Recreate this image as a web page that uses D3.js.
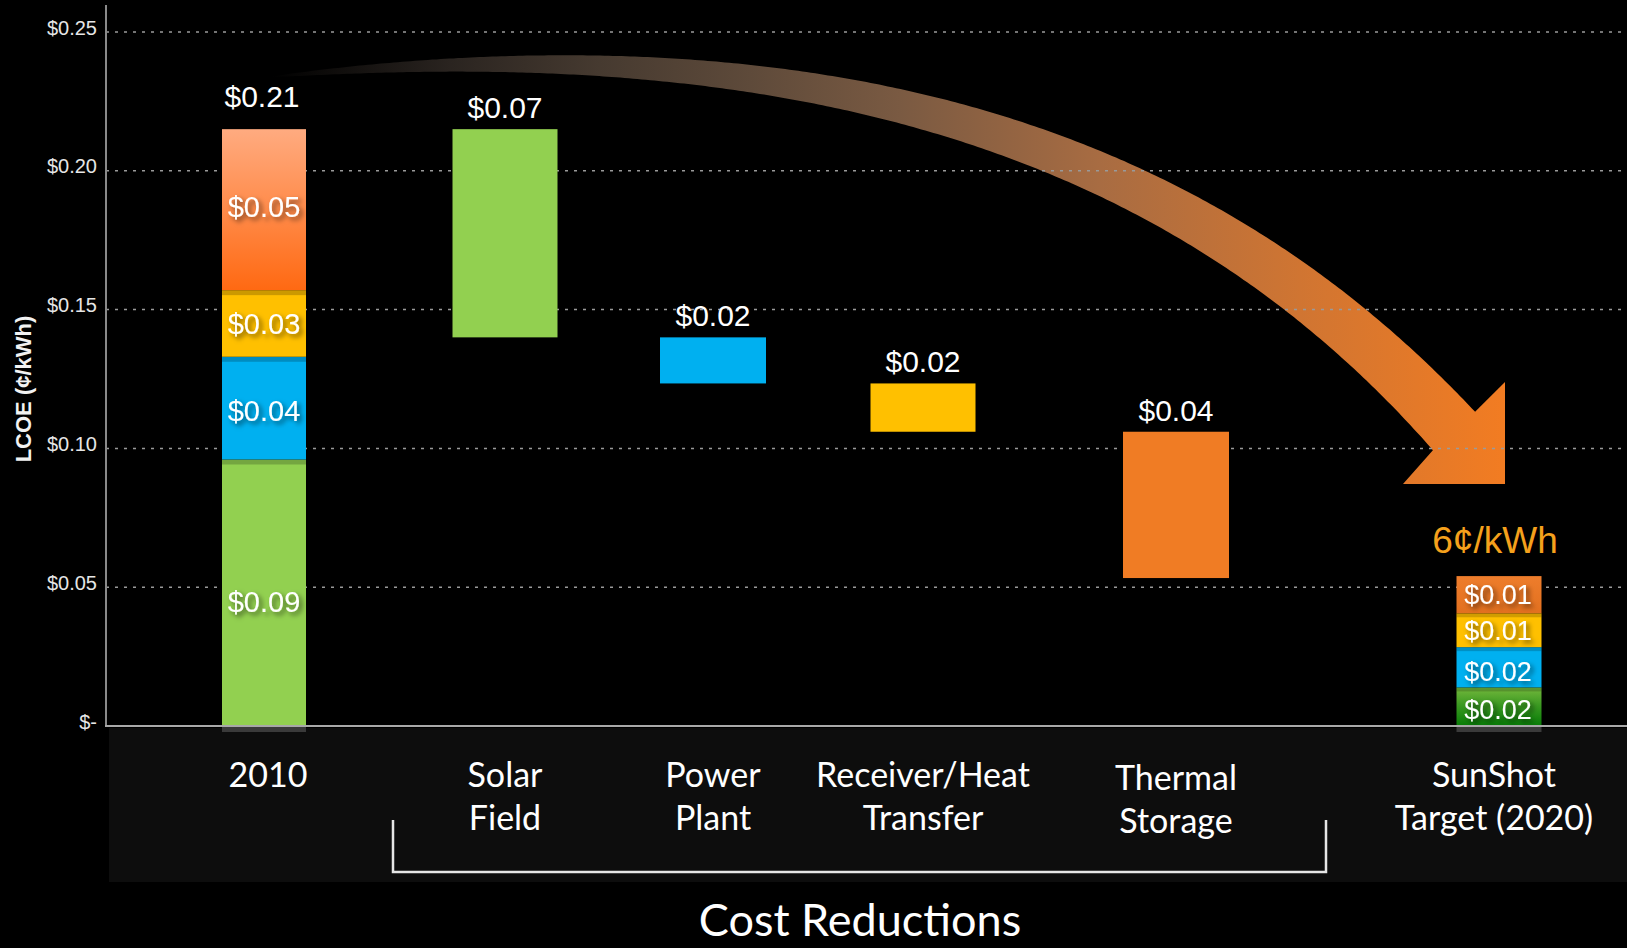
<!DOCTYPE html>
<html>
<head>
<meta charset="utf-8">
<script src="https://cdn.jsdelivr.net/npm/d3@7"></script>
<style>
  html, body { margin: 0; padding: 0; background: #000; }
  svg { display: block; }
</style>
</head>
<body>
<svg id="chart" width="1627" height="948"></svg>
<script>
// ---------------- DATA ----------------
const categories = ["2010", "Solar Field", "Power Plant", "Receiver/Heat Transfer", "Thermal Storage", "SunShot Target (2020)"];
const categoryLines = [["2010"], ["Solar", "Field"], ["Power", "Plant"], ["Receiver/Heat", "Transfer"], ["Thermal", "Storage"], ["SunShot", "Target (2020)"]];
const components = ["Solar Field", "Power Plant", "Receiver/Heat Transfer", "Thermal Storage"];
const lcoe2010 = [0.096, 0.037, 0.024, 0.058];
const lcoe2010Labels = ["$0.09", "$0.04", "$0.03", "$0.05"];
const totalLabel = "$0.21";
const reductions = [0.075, 0.0166, 0.0174, 0.0527];
const reductionLabels = ["$0.07", "$0.02", "$0.02", "$0.04"];
const sunshot = [0.0139, 0.0145, 0.0122, 0.0134];
const sunshotLabels = ["$0.02", "$0.02", "$0.01", "$0.01"];
const targetLabel = "6¢/kWh";
const yTicks = [0, 0.05, 0.10, 0.15, 0.20, 0.25];
const yTickLabels = ["$-", "$0.05", "$0.10", "$0.15", "$0.20", "$0.25"];
const yTitle = "LCOE (¢/kWh)";
const xTitle = "Cost Reductions";

// ---------------- LAYOUT / STYLE ----------------
const W = 1627, H = 948;
const axisX = 106, zeroY = 726, topY = 32;
const slotCenters = [264, 505, 713, 923, 1176, 1499];
const slotWidths = [84, 105, 106, 105, 106, 85];
const labelNudge2010 = [9, 2, 0, -3];
const labelNudgeSun = [3, 4, 0, 0];
const compColors = ["#92d050", "#00b0f0", "#ffc000", "#f07c24"];
const sansFont = "'Liberation Sans', Arial, Helvetica, sans-serif";
const catFont = "Lato, 'Open Sans', sans-serif";

const svg = d3.select("#chart");
const defs = svg.append("defs");

const y = d3.scaleLinear().domain([0, 0.25]).range([zeroY, topY]);
const x = d3.scaleOrdinal().domain(categories).range(slotCenters);
const bw = d3.scaleOrdinal().domain(categories).range(slotWidths);

// gradients
function vGrad(id, stops) {
  const g = defs.append("linearGradient").attr("id", id).attr("x1", 0).attr("y1", 0).attr("x2", 0).attr("y2", 1);
  stops.forEach(s => g.append("stop").attr("offset", s[0]).attr("stop-color", s[1]));
}
vGrad("orange2010", [[0, "#ffab80"], [0.5, "#ff8b4a"], [1, "#ff6912"]]);
vGrad("sunGreen", [[0, "#74b83c"], [0.45, "#3c9a22"], [1, "#067c06"]]);
vGrad("sunOrange", [[0, "#ee7d2c"], [1, "#e2701f"]]);
const ag = defs.append("linearGradient").attr("id", "arrowGrad").attr("gradientUnits", "userSpaceOnUse")
  .attr("x1", 270).attr("y1", 0).attr("x2", 1505).attr("y2", 0);
[[0, "#000000"], [0.146, "#2a2420"], [0.267, "#463a30"], [0.389, "#5e4a3a"], [0.51, "#7a5a42"], [0.672, "#a86c42"], [0.834, "#d07532"], [1, "#f27c22"]]
  .forEach(s => ag.append("stop").attr("offset", s[0]).attr("stop-color", s[1]));

const f = defs.append("filter").attr("id", "tshadow").attr("x", "-20%").attr("y", "-30%").attr("width", "150%").attr("height", "170%");
f.append("feDropShadow").attr("dx", 3).attr("dy", 3).attr("stdDeviation", 2.5).attr("flood-color", "#000").attr("flood-opacity", 0.55);

// bottom band
svg.append("rect").attr("x", 109).attr("y", 728).attr("width", W - 109).attr("height", 154).attr("fill", "#0d0d0d");

// arrow (annotation): smooth cubic centre line with tapering width
const arrowStart = [270, 77], arrowC1 = [870, 17], arrowC2 = [1219, 172], arrowEnd = [1454, 431];
const arrowEndWidth = 57;
const arrowHeadTips = [[1505, 382], [1505, 484], [1403, 484]];
const sp = d3.path();
sp.moveTo(...arrowStart);
sp.bezierCurveTo(...arrowC1, ...arrowC2, ...arrowEnd);
const spine = svg.append("path").attr("d", sp.toString()).attr("fill", "none").attr("stroke", "none");
const node = spine.node();
const L = node.getTotalLength();
const N = 300;
const pts = d3.range(N + 1).map(k => node.getPointAtLength(L * k / N));
const upper = [], lower = [];
pts.forEach((p, k) => {
  const a = pts[Math.max(0, k - 1)], b = pts[Math.min(N, k + 1)];
  let dx = b.x - a.x, dy = b.y - a.y; const n = Math.hypot(dx, dy) || 1; dx /= n; dy /= n;
  const w = arrowEndWidth * Math.pow(k / N, 0.75) / 2;
  upper.push([p.x + dy * w, p.y - dx * w]);
  lower.push([p.x - dy * w, p.y + dx * w]);
});
spine.remove();
const poly = upper.concat(arrowHeadTips, lower.reverse());
svg.append("path").attr("d", "M" + poly.map(p => p[0].toFixed(1) + "," + p[1].toFixed(1)).join("L") + "Z").attr("fill", "url(#arrowGrad)");

// gridlines
svg.append("g").selectAll("line").data(yTicks.filter(d => d > 0)).join("line")
  .attr("x1", axisX).attr("x2", W).attr("y1", d => y(d)).attr("y2", d => y(d))
  .attr("stroke", "#9a9a9a").attr("stroke-width", 1.5).attr("stroke-dasharray", "3,6");

// y axis labels
const yAxis = d3.axisLeft(y).tickValues(yTicks).tickFormat((d, i) => yTickLabels[i]).tickSize(0).tickPadding(9);
const ya = svg.append("g").attr("transform", `translate(${axisX},0)`).call(yAxis);
ya.select(".domain").remove();
ya.selectAll("text").attr("font-family", sansFont).attr("font-size", 20).attr("fill", "#e6e6e6").attr("dy", "0.1em");

// axis lines
svg.append("line").attr("x1", axisX).attr("x2", axisX).attr("y1", 5).attr("y2", zeroY).attr("stroke", "#8a8a8a").attr("stroke-width", 2);

// y title
svg.append("text").attr("transform", `translate(31,389) rotate(-90)`).attr("text-anchor", "middle")
  .attr("font-family", sansFont).attr("font-weight", "bold").attr("font-size", 22).attr("fill", "#f2f2f2").text(yTitle);

// ---- 2010 stacked bar ----
const c2010 = categories[0];
let acc = 0;
const seg2010 = lcoe2010.map((v, i) => { const s = { y0: acc, y1: acc + v, i }; acc += v; return s; });
const total2010 = acc;
const b2010 = svg.append("g");
b2010.append("rect").attr("x", x(c2010) - bw(c2010) / 2).attr("y", zeroY + 1).attr("width", bw(c2010)).attr("height", 5).attr("fill", "#3a3a3a");
b2010.selectAll("rect.seg").data(seg2010).join("rect").attr("class", "seg")
  .attr("x", x(c2010) - bw(c2010) / 2).attr("width", bw(c2010))
  .attr("y", d => y(d.y1)).attr("height", d => y(d.y0) - y(d.y1))
  .attr("fill", d => d.i === 3 ? "url(#orange2010)" : compColors[d.i]);
b2010.selectAll("rect.sh").data(seg2010.slice(0, 3)).join("rect").attr("class", "sh")
  .attr("x", x(c2010) - bw(c2010) / 2).attr("width", bw(c2010))
  .attr("y", d => y(d.y1)).attr("height", 5).attr("fill", "#000").attr("opacity", 0.2);
b2010.selectAll("text").data(seg2010).join("text")
  .attr("x", x(c2010)).attr("y", d => y((d.y0 + d.y1) / 2) + labelNudge2010[d.i]).attr("dy", "0.36em")
  .attr("text-anchor", "middle").attr("font-family", sansFont).attr("font-size", 29).attr("fill", "#fff")
  .attr("filter", "url(#tshadow)").text(d => lcoe2010Labels[d.i]);
svg.append("text").attr("x", x(c2010) - 2).attr("y", y(total2010) - 22).attr("text-anchor", "middle")
  .attr("font-family", sansFont).attr("font-size", 30).attr("fill", "#fff").text(totalLabel);

// ---- waterfall reductions ----
let level = total2010;
const wf = reductions.map((v, i) => { const s = { cat: components[i], top: level, bottom: level - v, i }; level -= v; return s; });
const gw = svg.append("g");
gw.selectAll("rect").data(wf).join("rect")
  .attr("x", d => x(d.cat) - bw(d.cat) / 2).attr("width", d => bw(d.cat))
  .attr("y", d => y(d.top)).attr("height", d => y(d.bottom) - y(d.top))
  .attr("fill", d => compColors[d.i]);
gw.selectAll("text").data(wf).join("text")
  .attr("x", d => x(d.cat)).attr("y", d => y(d.top) - 11).attr("text-anchor", "middle")
  .attr("font-family", sansFont).attr("font-size", 30).attr("fill", "#fff").text(d => reductionLabels[d.i]);

// ---- SunShot stacked bar ----
const cSun = categories[5];
acc = 0;
const segSun = sunshot.map((v, i) => { const s = { y0: acc, y1: acc + v, i }; acc += v; return s; });
const totalSun = acc;
const sunFills = ["url(#sunGreen)", compColors[1], compColors[2], "url(#sunOrange)"];
const bs = svg.append("g");
bs.append("rect").attr("x", x(cSun) - bw(cSun) / 2).attr("y", zeroY + 1).attr("width", bw(cSun)).attr("height", 5).attr("fill", "#3a3a3a");
bs.selectAll("rect.seg").data(segSun).join("rect").attr("class", "seg")
  .attr("x", x(cSun) - bw(cSun) / 2).attr("width", bw(cSun))
  .attr("y", d => y(d.y1)).attr("height", d => y(d.y0) - y(d.y1))
  .attr("fill", d => sunFills[d.i]);
bs.selectAll("rect.sh").data(segSun.slice(0, 3)).join("rect").attr("class", "sh")
  .attr("x", x(cSun) - bw(cSun) / 2).attr("width", bw(cSun))
  .attr("y", d => y(d.y1)).attr("height", 4).attr("fill", "#000").attr("opacity", 0.18);
bs.selectAll("text").data(segSun).join("text")
  .attr("x", x(cSun) - 1).attr("y", d => y((d.y0 + d.y1) / 2) + labelNudgeSun[d.i]).attr("dy", "0.36em")
  .attr("text-anchor", "middle").attr("font-family", sansFont).attr("font-size", 27).attr("fill", "#fff")
  .attr("filter", "url(#tshadow)").text(d => sunshotLabels[d.i]);
svg.append("text").attr("x", x(cSun) - 4).attr("y", y(totalSun) - 23).attr("text-anchor", "middle")
  .attr("font-family", sansFont).attr("font-size", 37).attr("fill", "#f5a11c").text(targetLabel);

// x axis line
svg.append("line").attr("x1", axisX - 1).attr("x2", W).attr("y1", zeroY).attr("y2", zeroY).attr("stroke", "#a8a8a8").attr("stroke-width", 2);

// category labels
const catNudge = [4, 0, 0, 0, 0, -5];
const cl = svg.append("g");
categories.forEach((c, i) => {
  const t = cl.append("text").attr("text-anchor", "middle").attr("font-family", catFont).attr("font-size", 34).attr("fill", "#fff");
  categoryLines[i].forEach((ln, j) => {
    t.append("tspan").attr("x", x(c) + catNudge[i]).attr("y", 787 + j * 43 + (i === 4 ? 3 : 0)).text(ln);
  });
});

// bracket under the reduction categories
const bx0 = x(components[0]) - 112, bx1 = x(components[3]) + 150;
svg.append("path").attr("d", `M${bx0},820 L${bx0},872 L${bx1},872 L${bx1},820`)
  .attr("fill", "none").attr("stroke", "#e6e6e6").attr("stroke-width", 2.5);

// x title
svg.append("text").attr("x", 860).attr("y", 936).attr("text-anchor", "middle")
  .attr("font-family", catFont).attr("font-size", 45).attr("fill", "#fff").text(xTitle);
</script>
</body>
</html>
